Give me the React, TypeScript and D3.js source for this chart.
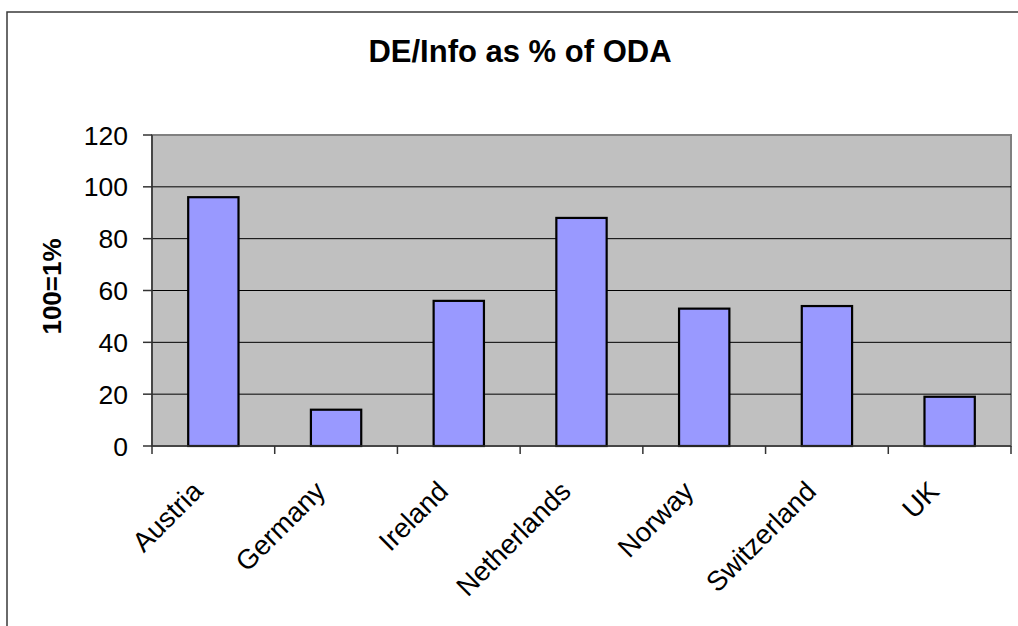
import * as d3 from 'd3';

const countries = ['Austria', 'Germany', 'Ireland', 'Netherlands', 'Norway', 'Switzerland', 'UK'];
const values = [96, 14, 56, 88, 53, 54, 19];
const yTicks = [0, 20, 40, 60, 80, 100, 120];

const W = 1018;
const H = 626;
const plot = { left: 152, top: 135, right: 1011, bottom: 446 };
const font = '"Liberation Sans", Arial, sans-serif';

export default function App() {
  const x = d3.scaleBand<string>()
    .domain(countries)
    .range([plot.left, plot.right])
    .paddingInner(0.59)
    .paddingOuter(0.295);
  const band = d3.scaleBand<string>().domain(countries).range([plot.left, plot.right]);
  const y = d3.scaleLinear().domain([0, 120]).range([plot.bottom, plot.top]);

  const boundaries = d3.range(countries.length + 1).map(i => plot.left + i * band.step());

  return (
    <svg width={W} height={H} style={{ position: 'absolute', left: 0, top: 0, background: '#fff' }}>
      {/* chart border, only top and left edges are in view */}
      <path d={`M7,${H} V12 H${W}`} fill="none" stroke="#3a3a3a" strokeWidth={1.5} />

      <text x={520} y={62} textAnchor="middle" fontFamily={font} fontWeight="bold" fontSize={31}>
        DE/Info as % of ODA
      </text>

      {/* plot area */}
      <rect x={plot.left} y={plot.top} width={plot.right - plot.left} height={plot.bottom - plot.top}
        fill="#c0c0c0" stroke="#808080" strokeWidth={2} />

      {yTicks.filter(t => t > 0 && t < 120).map(t => (
        <line key={t} x1={plot.left} x2={plot.right} y1={y(t)} y2={y(t)} stroke="#000" strokeWidth={1} />
      ))}

      {countries.map((c, i) => (
        <rect key={c} x={x(c)} y={y(values[i])} width={x.bandwidth()} height={y(0) - y(values[i])}
          fill="#9999ff" stroke="#000" strokeWidth={2.2} />
      ))}

      {/* y axis */}
      <line x1={plot.left} x2={plot.left} y1={plot.top} y2={plot.bottom} stroke="#333" strokeWidth={1.5} />
      {yTicks.map(t => (
        <g key={t}>
          <line x1={plot.left - 9} x2={plot.left} y1={y(t)} y2={y(t)} stroke="#333" strokeWidth={1.5} />
          <text x={128} y={y(t)} dy="0.36em" textAnchor="end" fontFamily={font} fontSize={26.5}>{t}</text>
        </g>
      ))}

      {/* x axis */}
      <line x1={plot.left} x2={plot.right} y1={plot.bottom} y2={plot.bottom} stroke="#333" strokeWidth={1.5} />
      {boundaries.map((b, i) => (
        <line key={i} x1={b} x2={b} y1={plot.bottom} y2={plot.bottom + 8} stroke="#333" strokeWidth={1.5} />
      ))}
      {countries.map(c => {
        const cx = band(c)! + band.bandwidth() / 2;
        return (
          <text key={c} transform={`translate(${cx - 9},${plot.bottom + 47}) rotate(-45)`}
            textAnchor="end" fontFamily={font} fontSize={27.5}>{c}</text>
        );
      })}

      <text transform={`translate(61,${(plot.top + plot.bottom) / 2 - 4}) rotate(-90)`} textAnchor="middle"
        fontFamily={font} fontWeight="bold" fontSize={26}>100=1%</text>
    </svg>
  );
}
